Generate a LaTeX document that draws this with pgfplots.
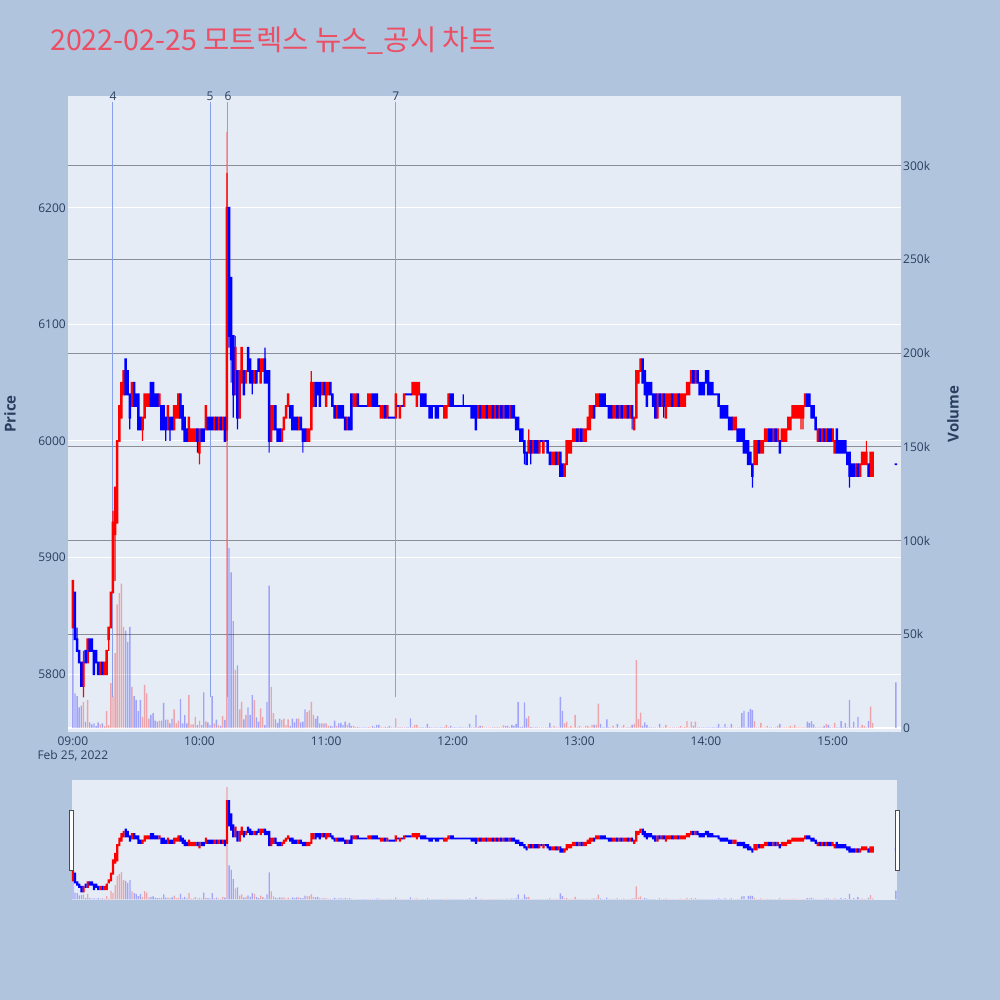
\documentclass[border=0pt]{standalone}
\usepackage{pgfplots}
\pgfplotsset{compat=1.18}
\usepackage{pgfplotstable}
\usepackage{fontspec}
\setmainfont{Open Sans}
\newfontfamily\cjk{Noto Sans CJK KR}
\definecolor{bgcol}{RGB}{176,196,222}
\definecolor{plotbg}{RGB}{229,236,246}
\definecolor{tickc}{RGB}{42,63,95}
\definecolor{vgrid}{RGB}{140,142,150}
\definecolor{titlec}{RGB}{236,78,100}
\definecolor{newsc}{RGB}{135,160,235}
\definecolor{upc}{RGB}{255,0,0}
\definecolor{dnc}{RGB}{0,0,255}

\pgfplotstableread{
t o c h l
0 5840 5880 5880 5840
5 5790 5810 5820 5780
7 5810 5830 5830 5810
13 5800 5810 5810 5800
15 5800 5810 5810 5800
16 5800 5820 5820 5800
17 5830 5840 5840 5820
18 5840 5870 5870 5840
19 5870 5930 5940 5870
20 5920 5960 5960 5880
21 5930 6000 6000 5930
22 6000 6030 6030 6000
23 6020 6050 6050 6020
24 6040 6060 6060 6040
28 6030 6050 6050 6030
33 6010 6020 6020 6000
34 6020 6040 6040 6020
35 6030 6040 6040 6030
36 6030 6040 6040 6030
41 6030 6040 6040 6030
45 6010 6030 6030 6010
48 6010 6030 6030 6010
49 6020 6030 6030 6020
50 6020 6040 6040 6020
55 6000 6020 6020 6000
56 6000 6010 6010 6000
57 6000 6010 6010 6000
58 6000 6010 6010 6000
60 5990 6010 6010 5980
63 6010 6030 6030 6010
67 6010 6020 6020 6010
69 6010 6020 6020 6010
71 6010 6020 6020 6010
73 6010 6200 6230 6000
77 6040 6080 6090 6040
79 6020 6060 6060 6020
80 6050 6080 6080 6050
82 6050 6060 6060 6050
86 6050 6060 6060 6050
89 6050 6070 6070 6050
90 6060 6070 6070 6060
94 6000 6030 6030 6000
95 6010 6030 6030 6010
99 6000 6010 6010 6000
100 6010 6020 6020 6010
101 6020 6030 6030 6020
102 6030 6040 6040 6030
107 6010 6020 6020 6010
111 6000 6010 6010 6000
112 6000 6010 6010 6000
113 6010 6050 6060 6010
114 6030 6050 6050 6030
118 6040 6050 6050 6040
120 6030 6050 6050 6030
121 6040 6050 6050 6040
125 6020 6030 6030 6020
130 6010 6020 6020 6010
133 6030 6040 6040 6030
134 6030 6040 6040 6030
140 6030 6040 6040 6030
141 6030 6040 6040 6030
146 6020 6030 6030 6020
147 6020 6030 6030 6020
149 6020 6030 6030 6020
153 6020 6040 6040 6020
155 6020 6030 6030 6020
157 6030 6040 6040 6030
161 6040 6050 6050 6040
162 6040 6050 6050 6040
163 6030 6050 6050 6030
164 6040 6050 6050 6040
176 6020 6030 6030 6020
177 6020 6030 6030 6020
178 6030 6040 6040 6030
192 6020 6030 6030 6020
194 6020 6030 6030 6020
195 6020 6030 6030 6020
197 6020 6030 6030 6020
198 6020 6030 6030 6020
200 6020 6030 6030 6020
202 6020 6030 6030 6020
204 6020 6030 6030 6020
207 6020 6030 6030 6020
216 5990 6000 6010 5990
218 5990 6000 6000 5990
221 5990 6000 6000 5990
223 5990 6000 6000 5990
227 5980 5990 5990 5980
228 5980 5990 5990 5980
230 5980 5990 5990 5980
233 5970 5980 5980 5970
234 5980 6000 6000 5980
235 5990 6000 6000 5990
236 5990 6000 6000 5990
237 6000 6010 6010 6000
238 6000 6010 6010 6000
240 6000 6010 6010 6000
242 6000 6010 6010 6000
243 6000 6010 6010 6000
244 6010 6020 6020 6010
245 6010 6030 6030 6010
246 6020 6030 6030 6020
248 6030 6040 6040 6030
249 6030 6040 6040 6030
256 6020 6030 6030 6020
257 6020 6030 6030 6020
259 6020 6030 6030 6020
261 6020 6030 6030 6020
262 6020 6030 6030 6020
264 6020 6030 6030 6020
266 6010 6020 6020 6010
267 6020 6060 6060 6020
268 6050 6060 6060 6050
269 6060 6070 6070 6060
277 6020 6040 6040 6020
279 6030 6040 6040 6030
281 6020 6040 6040 6020
282 6030 6040 6040 6030
283 6030 6040 6040 6030
285 6030 6040 6040 6030
286 6030 6040 6040 6030
288 6030 6040 6040 6030
289 6030 6040 6040 6030
290 6030 6040 6040 6030
291 6040 6050 6050 6040
292 6040 6050 6050 6040
293 6050 6060 6060 6050
295 6050 6060 6060 6050
313 6010 6020 6020 6010
314 6010 6020 6020 6010
323 5980 6000 6000 5980
324 5980 6000 6000 5980
326 5990 6000 6000 5990
327 5990 6000 6000 5990
328 6000 6010 6010 6000
329 6000 6010 6010 6000
332 6000 6010 6010 6000
334 6000 6010 6010 6000
336 6000 6010 6010 6000
337 6000 6010 6010 6000
338 6000 6010 6010 6000
339 6010 6020 6020 6010
340 6010 6020 6020 6010
341 6020 6030 6030 6020
342 6020 6030 6030 6020
343 6020 6030 6030 6020
344 6020 6030 6030 6020
345 6020 6030 6030 6010
346 6020 6030 6030 6010
347 6030 6040 6040 6030
353 6000 6010 6010 6000
355 6000 6010 6010 6000
357 6000 6010 6010 6000
360 6000 6010 6010 6000
361 5990 6000 6000 5990
371 5970 5980 5980 5970
373 5970 5980 5980 5970
374 5980 5990 5990 5980
375 5980 5990 5990 5980
376 5980 5990 6000 5980
378 5970 5990 5990 5970
379 5970 5990 5990 5970
}\upcandles

\pgfplotstableread{
t o c h l
1 5870 5830 5870 5830
2 5830 5820 5840 5820
3 5820 5810 5820 5810
4 5810 5790 5810 5790
6 5820 5810 5820 5810
8 5830 5820 5830 5820
9 5830 5820 5830 5820
10 5820 5800 5820 5800
11 5820 5810 5820 5810
12 5810 5800 5810 5800
14 5810 5800 5810 5800
25 6070 6040 6070 6040
26 6060 6040 6060 6040
27 6040 6020 6040 6010
29 6050 6030 6050 6030
30 6040 6030 6040 6030
31 6040 6010 6040 6010
32 6020 6010 6020 6010
37 6050 6030 6050 6030
38 6050 6030 6050 6030
39 6040 6030 6040 6030
40 6040 6030 6040 6030
42 6030 6010 6030 6010
43 6030 6010 6030 6010
44 6020 6010 6020 6000
46 6020 6010 6020 6000
47 6020 6010 6020 6010
51 6040 6020 6040 6020
52 6030 6010 6030 6010
53 6020 6000 6020 6000
54 6010 6000 6010 6000
59 6010 6000 6010 5990
61 6010 6000 6010 6000
62 6010 6000 6010 6000
64 6020 6010 6020 6010
65 6020 6010 6020 6010
66 6020 6010 6020 6010
68 6020 6010 6020 6010
70 6020 6010 6020 6010
72 6020 6000 6020 6000
74 6200 6090 6200 6080
75 6140 6070 6140 6050
76 6090 6040 6090 6020
78 6060 6020 6060 6010
81 6060 6040 6060 6040
83 6080 6060 6080 6060
84 6070 6050 6070 6050
85 6060 6050 6060 6040
87 6060 6050 6060 6050
88 6070 6060 6070 6060
91 6070 6050 6080 6050
92 6060 6050 6060 6050
93 6060 6000 6060 5990
96 6030 6010 6030 6010
97 6010 6000 6010 6000
98 6010 6000 6010 6000
103 6030 6020 6030 6020
104 6030 6010 6030 6010
105 6020 6010 6020 6010
106 6020 6010 6020 6010
108 6020 6010 6020 6010
109 6010 6000 6010 5990
110 6010 6000 6010 6000
115 6050 6030 6050 6030
116 6050 6040 6050 6040
117 6050 6030 6050 6030
119 6050 6040 6050 6040
122 6050 6040 6050 6040
123 6040 6030 6040 6030
124 6030 6020 6030 6020
126 6030 6020 6030 6020
127 6030 6020 6030 6020
128 6030 6020 6030 6020
129 6020 6010 6020 6010
131 6020 6010 6020 6010
132 6040 6010 6040 6010
135 6040 6030 6040 6030
136 6030 6030 6030 6030
137 6030 6030 6030 6030
138 6030 6030 6030 6030
139 6030 6030 6030 6030
142 6040 6030 6040 6030
143 6040 6030 6040 6030
144 6040 6030 6040 6030
145 6030 6030 6030 6030
148 6030 6020 6030 6020
150 6020 6020 6020 6020
151 6020 6020 6020 6020
152 6020 6020 6020 6020
154 6030 6030 6030 6030
156 6030 6030 6030 6030
158 6040 6040 6040 6040
159 6040 6040 6040 6040
160 6040 6040 6040 6040
165 6040 6030 6040 6030
166 6040 6030 6040 6030
167 6040 6030 6040 6030
168 6030 6030 6030 6030
169 6030 6020 6030 6020
170 6030 6020 6030 6020
171 6030 6030 6030 6030
172 6030 6020 6030 6020
173 6030 6020 6030 6020
174 6030 6030 6030 6030
175 6030 6030 6030 6030
179 6040 6030 6040 6030
180 6040 6030 6040 6030
181 6030 6030 6030 6030
182 6030 6030 6030 6030
183 6030 6030 6030 6030
184 6030 6030 6030 6030
185 6030 6030 6040 6030
186 6030 6030 6030 6030
187 6030 6030 6030 6030
188 6030 6030 6030 6030
189 6030 6020 6030 6020
190 6030 6020 6030 6020
191 6030 6010 6030 6010
193 6030 6020 6030 6020
196 6030 6020 6030 6020
199 6030 6020 6030 6020
201 6030 6020 6030 6020
203 6030 6020 6030 6020
205 6030 6020 6030 6020
206 6030 6020 6030 6020
208 6030 6020 6030 6020
209 6030 6020 6030 6020
210 6020 6010 6020 6010
211 6020 6010 6020 6010
212 6010 6000 6010 6000
213 6010 6000 6010 6000
214 6000 5990 6000 5980
215 5990 5980 5990 5980
217 6000 5990 6000 5980
219 6000 5990 6000 5990
220 6000 5990 6000 5990
222 6000 6000 6000 6000
224 6000 6000 6000 6000
225 6000 5990 6000 5990
226 5990 5980 5990 5980
229 5990 5980 5990 5980
231 5990 5970 5990 5970
232 5980 5970 5980 5970
239 6010 6000 6010 6000
241 6010 6000 6010 6000
247 6030 6020 6030 6020
250 6040 6030 6040 6030
251 6040 6030 6040 6030
252 6040 6030 6040 6030
253 6030 6030 6030 6030
254 6030 6020 6030 6020
255 6030 6020 6030 6020
258 6030 6020 6030 6020
260 6030 6020 6030 6020
263 6030 6020 6030 6020
265 6030 6020 6030 6010
270 6070 6050 6070 6050
271 6060 6040 6060 6040
272 6050 6030 6050 6030
273 6050 6040 6050 6040
274 6050 6040 6050 6040
275 6040 6030 6040 6030
276 6040 6020 6040 6020
278 6040 6030 6040 6030
280 6040 6030 6040 6020
284 6040 6030 6040 6030
287 6040 6030 6040 6030
294 6060 6050 6060 6050
296 6060 6050 6060 6050
297 6050 6040 6050 6040
298 6050 6040 6050 6040
299 6050 6040 6050 6040
300 6060 6050 6060 6050
301 6060 6040 6060 6040
302 6050 6040 6050 6040
303 6050 6040 6050 6040
304 6040 6040 6040 6040
305 6040 6040 6040 6040
306 6040 6030 6040 6030
307 6030 6020 6030 6020
308 6030 6020 6030 6020
309 6030 6020 6030 6020
310 6030 6020 6030 6020
311 6020 6010 6020 6010
312 6020 6010 6020 6010
315 6010 6000 6010 6000
316 6010 6000 6010 6000
317 6010 6000 6010 6000
318 6010 5990 6010 5990
319 6000 5990 6000 5990
320 6000 5980 6000 5980
321 5990 5980 5990 5980
322 5980 5970 5980 5960
325 6000 5990 6000 5990
330 6010 6000 6010 6000
331 6010 6000 6010 6000
333 6010 6000 6010 6000
335 6000 5990 6000 5990
348 6040 6030 6040 6030
349 6040 6030 6040 6030
350 6030 6020 6030 6020
351 6030 6020 6030 6020
352 6020 6010 6020 6010
354 6010 6000 6010 6000
356 6010 6000 6010 6000
358 6010 6000 6010 6000
359 6010 6000 6010 6000
362 6010 5990 6010 5990
363 6000 5990 6000 5990
364 6000 5990 6000 5990
365 6000 5990 6000 5990
366 6000 5990 6000 5990
367 5990 5980 5990 5980
368 5990 5970 5990 5960
369 5980 5970 5980 5970
370 5980 5970 5980 5970
372 5980 5970 5980 5970
377 5980 5970 5980 5970
390 5980 5980 5980 5980
}\downcandles

\pgfplotstableread{
t v
5 14
7 15
13 2
15 1
16 9
17 1.5
18 24
19 17
20 40
21 66
22 72
23 77
24 54
28 22
33 6
34 23
35 18.5
36 5
41 4
45 4.5
48 10
49 2.5
50 4
55 17.6
56 2
57 2
58 6
60 4
63 3.5
67 2.5
69 1.5
71 6.4
73 318
77 31
79 10
80 14
82 7
86 15
89 10.5
90 6
94 22
95 8
99 4.3
100 5
101 1.6
102 4.6
107 5
111 8.5
112 9.5
113 14
114 7
118 2.5
120 2.5
121 1.2
125 1.2
130 1.7
133 1.2
134 0.5
140 0.5
141 0.4
146 0.6
147 0.3
149 0.5
153 5.1
155 0.5
157 0.4
161 0.5
162 1.7
163 1.7
164 0.5
176 0.5
177 1.7
178 0.5
192 0.6
194 1.2
195 0.3
197 0.4
198 0.3
200 0.5
202 0.3
204 1.4
207 0.5
216 6.4
218 0.3
221 0.4
223 0.3
227 0.3
228 1.2
230 0.3
233 2.5
234 3.4
235 0.4
236 1.2
237 0.3
238 7
240 1.2
242 0.3
243 1.2
244 1.2
245 0.4
246 1.7
248 1.7
249 13.1
256 1.2
257 0.4
259 0.3
261 1.7
262 0.3
264 0.6
266 2.2
267 36.3
268 4.8
269 8.3
277 0.4
279 0.3
281 1.7
282 0.3
283 0.3
285 0.3
286 0.3
288 1.2
289 0.3
290 0.5
291 3.7
292 0.4
293 3.4
295 3.4
313 0.3
314 0.3
323 3.7
324 0.4
326 2.8
327 0.3
328 0.3
329 1.2
332 0.3
334 1.2
336 0.3
337 0.3
338 0.3
339 0.4
340 1.2
341 0.3
342 1.7
343 0.3
344 0.3
345 0.3
346 0.3
347 0.4
353 0.3
355 0.3
357 2.2
360 0.3
361 2.8
371 0.3
373 0.3
374 1.7
375 1.2
376 0.3
378 11.4
379 2.8
}\upvol

\pgfplotstableread{
t v
0 54
1 18.5
2 17
3 11
4 12
6 3.4
8 3
9 2
10 2.5
11 1
12 3
14 2.5
25 52
26 46
27 54
29 17
30 15
31 9
32 15
37 7
38 8
39 4
40 3.4
42 4
43 13.5
44 4.5
46 2.5
47 5
51 15.5
52 2.5
53 7
54 2.5
59 1.5
61 1.5
62 19
64 3
65 1.5
66 17
68 4.5
70 1.2
72 4.3
74 96
75 83
76 57
78 33.5
81 4.6
83 11
84 7
85 17.6
87 5.7
88 3.4
91 1.6
92 14
93 76
96 4.6
97 2.8
98 5
103 1.2
104 5
105 3
106 5
108 3
109 3.4
110 10
115 5
116 6.4
117 2.5
119 2.5
122 1.2
123 0.7
124 3.9
126 2.5
127 2.8
128 1.6
129 3.4
131 2.8
132 1.2
135 0.6
136 0.3
137 0.3
138 0.3
139 0.4
142 1.2
143 0.5
144 1.7
145 1.7
148 0.6
150 1.2
151 0.3
152 0.3
154 0.3
156 0.3
158 0.3
159 0.3
160 5.1
165 0.4
166 0.3
167 0.4
168 2.2
169 0.5
170 0.3
171 0.3
172 0.4
173 0.3
174 0.3
175 0.3
179 1.2
180 0.4
181 0.4
182 0.3
183 0.3
184 0.4
185 0.3
186 0.3
187 0.3
188 2.2
189 0.4
190 0.4
191 7
193 1.2
196 0.3
199 0.3
201 0.3
203 0.3
205 1.2
206 1.2
208 1.7
209 1.2
210 2.2
211 14
212 0.5
213 0.8
214 13.7
215 5.1
217 0.5
219 0.3
220 0.3
222 0.4
224 0.3
225 0.3
226 2.8
229 0.4
231 16.7
232 9.2
239 0.4
241 0.3
247 1.7
250 2.2
251 0.3
252 0.3
253 4.6
254 0.3
255 0.3
258 2.2
260 0.3
263 0.3
265 1.7
270 1.2
271 3
272 1.7
273 0.4
274 0.3
275 0.3
276 0.3
278 2.2
280 0.3
284 0.3
287 0.4
294 1.2
296 0.4
297 0.3
298 0.3
299 0.3
300 0.3
301 0.3
302 0.3
303 0.3
304 0.3
305 0.4
306 2.2
307 0.3
308 0.4
309 2.2
310 0.3
311 0.3
312 2.2
315 0.3
316 0.4
317 8
318 9.2
319 0.4
320 8.6
321 10.2
322 9.6
325 0.3
330 0.3
331 0.3
333 0.3
335 2.2
348 3.4
349 2.8
350 3.7
351 2
352 0.3
354 0.4
356 1.2
358 1.7
359 0.3
362 0.3
363 0.4
364 3.7
365 0.3
366 2.8
367 0.4
368 15
369 0.4
370 3.4
372 6
377 3.7
390 24.4
}\downvol

\tikzset{
  tickfont/.style={font=\fontsize{12bp}{13.6bp}\selectfont, text=tickc, inner sep=0pt},
}
\pgfplotsset{
  mainpos/.style={at={(68bp,268bp)}, anchor=south west, scale only axis,
    width=833bp, height=636bp, xmin=-2.3, xmax=392.4},
  slidepos/.style={at={(71.7bp,100bp)}, anchor=south west, scale only axis,
    width=825bp, height=120bp, xmin=-0.6, xmax=390.4},
  pricey/.style={ymin=5750.4, ymax=6295.9},
  voly/.style={ymin=-2.1, ymax=337.2},
  stk/.style={axis lines=none, ybar stacked, bar shift=0pt},
}
% floating bars: #1 position style, #2 width, #3 table, #4 colour, #5 base expr, #6 height expr
\newcommand\floatbars[6]{%
  \begin{axis}[#1, pricey, stk, bar width=#2]
  \addplot[draw=none, fill=none] table[x=t, y expr={#5}] {#3};
  \addplot[draw=none, fill=#4] table[x=t, y expr={#6}] {#3};
  \end{axis}}

\begin{document}
\begin{tikzpicture}
\useasboundingbox[fill=bgcol] (0,0) rectangle (1000bp,1000bp);
\node[anchor=base west, text=titlec, inner sep=0pt,
  font=\cjk\fontsize{28.6bp}{32bp}\selectfont] at (50bp,949.5bp)
  {2022-02-25 모트렉스 뉴스\_공시 차트};

% main: price grid, x ticks, price ticks
\begin{axis}[mainpos, pricey,
  axis background/.style={fill=plotbg},
  axis line style={draw=none},
  major tick length=0pt,
  ytick={5800,5900,6000,6100,6200},
  yticklabels={5800,5900,6000,6100,6200},
  ymajorgrids, grid style={white, line width=1bp},
  xtick={0,60,120,180,240,300,360},
  xticklabels={{09:00\\Feb 25, 2022},10:00,11:00,12:00,13:00,14:00,15:00},
  xticklabel style={tickfont, anchor=north, align=center, yshift=-4.7bp},
  yticklabel style={tickfont, anchor=east, xshift=-2bp},
  ylabel={Price},
  ylabel style={at={(axis description cs:-0.0696,0.5)}, anchor=center,
    font=\bfseries\fontsize{15bp}{18bp}\selectfont, text=tickc},
]
\end{axis}

% main: volume
\begin{axis}[mainpos, voly,
  axis line style={draw=none},
  major tick length=0pt,
  xtick=\empty,
  ytick={0,50,100,150,200,250,300},
  yticklabels={0,50k,100k,150k,200k,250k,300k},
  yticklabel pos=right,
  yticklabel style={tickfont, anchor=west, xshift=2bp},
  ymajorgrids, grid style={vgrid, line width=1bp},
  ylabel={Volume},
  ylabel style={at={(axis description cs:1.0624,0.5)}, anchor=center, rotate=0,
    font=\bfseries\fontsize{15bp}{18bp}\selectfont, text=tickc},
]
\draw[white, line width=2bp] (axis cs:-2.3,0) -- (axis cs:392.4,0);
\addplot[ybar, bar width=1.4bp, bar shift=0pt, draw=none, fill=upc, fill opacity=0.3]
  table[x=t, y=v] {\upvol};
\addplot[ybar, bar width=1.4bp, bar shift=0pt, draw=none, fill=dnc, fill opacity=0.3]
  table[x=t, y=v] {\downvol};
\end{axis}

% news markers
\begin{axis}[mainpos, pricey, axis lines=none, clip=false]
\addplot[newsc, line width=1bp] coordinates {(19,5780) (19,6291)};
\addplot[newsc, line width=1bp] coordinates {(65,5780) (65,6291)};
\addplot[newsc, line width=1bp] coordinates {(73.5,5780) (73.5,6291)};
\addplot[newsc, line width=1bp] coordinates {(153,5780) (153,6291)};
\node[tickfont, anchor=center] at (axis cs:19,6295.5) {4};
\node[tickfont, anchor=center] at (axis cs:65,6295.5) {5};
\node[tickfont, anchor=center] at (axis cs:73.5,6295.5) {6};
\node[tickfont, anchor=center] at (axis cs:153,6295.5) {7};
\end{axis}

% main candles: wicks then bodies
\floatbars{mainpos}{1.2bp}{\upcandles}{upc}{\thisrow{l}}{\thisrow{h}-\thisrow{l}}
\floatbars{mainpos}{1.2bp}{\downcandles}{dnc}{\thisrow{l}}{\thisrow{h}-\thisrow{l}}
\floatbars{mainpos}{2.5bp}{\upcandles}{upc}{min(\thisrow{o},\thisrow{c})-0.8}{abs(\thisrow{c}-\thisrow{o})+1.6}
\floatbars{mainpos}{2.5bp}{\downcandles}{dnc}{min(\thisrow{o},\thisrow{c})-0.8}{abs(\thisrow{c}-\thisrow{o})+1.6}

% range slider: volume
\begin{axis}[slidepos, voly, axis lines=none,
  axis background/.style={fill=plotbg}]
\addplot[ybar, bar width=1.3bp, bar shift=0pt, draw=none, fill=upc, fill opacity=0.3]
  table[x=t, y=v] {\upvol};
\addplot[ybar, bar width=1.3bp, bar shift=0pt, draw=none, fill=dnc, fill opacity=0.3]
  table[x=t, y=v] {\downvol};
\end{axis}

% range slider: candles
\floatbars{slidepos}{2.2bp}{\upcandles}{upc}{min(\thisrow{o},\thisrow{c})-4.5}{abs(\thisrow{c}-\thisrow{o})+9}
\floatbars{slidepos}{2.2bp}{\downcandles}{dnc}{min(\thisrow{o},\thisrow{c})-4.5}{abs(\thisrow{c}-\thisrow{o})+9}

\draw[fill=white, draw=black!70, line width=0.8bp] (69.5bp,129.5bp) rectangle (73.5bp,190bp);
\draw[fill=white, draw=black!70, line width=0.8bp] (895.3bp,129.5bp) rectangle (899.3bp,190bp);
\end{tikzpicture}
\end{document}
